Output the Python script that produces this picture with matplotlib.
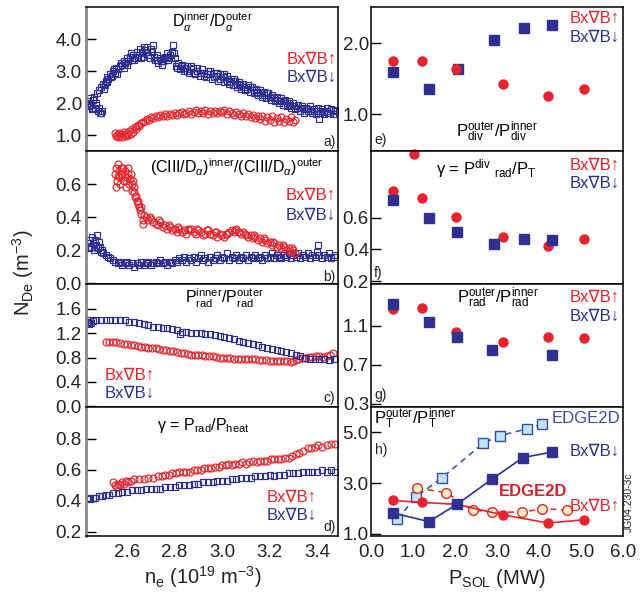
import matplotlib
matplotlib.use('Agg')
import matplotlib.pyplot as plt
from matplotlib.ticker import FormatStrFormatter

plt.rcParams['font.family'] = ['Liberation Sans', 'DejaVu Sans']
plt.rcParams['mathtext.fontset'] = 'custom'
plt.rcParams['mathtext.rm'] = 'Liberation Sans'
plt.rcParams['mathtext.it'] = 'Liberation Sans:italic'
plt.rcParams['mathtext.bf'] = 'Liberation Sans:bold'

RED = '#E8232B'
BLUE = '#2E3192'
LBLUE = '#BFE4F7'
LYELLOW = '#FFF5C4'

# ---------------- data: left column (n_e scans) ----------------
a_blue_x = [2.437, 2.440, 2.445, 2.450, 2.455, 2.458, 2.462, 2.466, 2.470, 2.472, 2.478, 2.483, 2.486, 2.490, 2.495,
            2.500, 2.507, 2.510, 2.514, 2.520, 2.528, 2.535, 2.540, 2.549, 2.555, 2.562, 2.570, 2.578, 2.585, 2.592,
            2.598, 2.605, 2.612, 2.619, 2.626, 2.633, 2.640, 2.648, 2.655, 2.662, 2.668, 2.675, 2.682, 2.689, 2.696,
            2.703, 2.710, 2.718, 2.725, 2.732, 2.739, 2.746, 2.753, 2.760, 2.767, 2.774, 2.781, 2.788, 2.795, 2.800,
            2.808, 2.815, 2.823, 2.830, 2.838, 2.845, 2.851, 2.860, 2.868, 2.879, 2.887, 2.895, 2.905, 2.914, 2.922,
            2.932, 2.940, 2.949, 2.958, 2.966, 2.975, 2.984, 2.993, 3.002, 3.010, 3.019, 3.028, 3.036, 3.045, 3.054,
            3.062, 3.071, 3.080, 3.089, 3.098, 3.107, 3.116, 3.125, 3.134, 3.142, 3.151, 3.160, 3.168, 3.177, 3.186,
            3.195, 3.204, 3.212, 3.221, 3.230, 3.239, 3.248, 3.256, 3.265, 3.274, 3.283, 3.292, 3.300, 3.309, 3.318,
            3.326, 3.335, 3.344, 3.352, 3.361, 3.370, 3.379, 3.388, 3.396, 3.405, 3.410, 3.414, 3.422, 3.431, 3.440,
            3.448, 3.457, 3.466, 3.475,
            2.445, 2.452, 2.468, 2.480, 2.492, 2.503, 2.517, 2.531, 2.545, 2.559, 2.573, 2.587, 2.601, 2.615, 2.629,
            2.643, 2.657, 2.671, 2.685, 2.699, 2.713, 2.727, 2.741, 2.755, 2.769, 2.783, 2.797, 2.811, 2.825, 2.839,
            2.853, 2.867, 2.881, 2.895, 2.909, 2.923, 2.937, 2.951, 2.965, 2.979, 2.993, 3.007, 3.021, 3.035, 3.049,
            3.063, 3.077, 3.091, 3.105, 3.119, 3.133, 3.147, 3.161, 3.175, 3.189, 3.203, 3.217, 3.231, 3.245, 3.259,
            3.273, 3.287, 3.301, 3.315, 3.329, 3.343, 3.357, 3.371, 3.385, 3.399, 3.413, 3.427, 3.441, 3.455, 3.469]
a_blue_y = [2.05, 1.90, 2.15, 1.95, 2.10, 1.85, 2.20, 1.80, 2.00, 2.30, 1.75, 2.40, 1.70, 2.50, 1.75,
            2.60, 2.55, 2.70, 2.80, 2.75, 2.90, 2.85, 3.00, 2.95, 3.10, 3.05, 3.15, 3.20, 3.30, 3.25,
            3.40, 3.30, 3.45, 3.35, 3.50, 3.40, 3.60, 3.45, 3.70, 3.55, 3.45, 3.65, 3.75, 3.50, 3.40,
            3.60, 3.80, 3.35, 3.50, 3.25, 3.40, 3.20, 3.30, 3.45, 3.55, 3.35, 3.50, 3.60, 3.80, 3.40,
            3.15, 3.25, 3.05, 3.20, 3.00, 3.10, 3.15, 2.95, 3.05, 3.10, 2.90, 3.00, 2.85, 3.05, 2.95,
            2.80, 3.00, 2.90, 2.75, 2.95, 2.85, 2.70, 2.90, 2.80, 2.65, 2.85, 2.60, 2.75, 2.55, 2.70,
            2.50, 2.65, 2.45, 2.60, 2.40, 2.55, 2.35, 2.50, 2.30, 2.45, 2.25, 2.40, 2.20, 2.35, 2.15,
            2.30, 2.10, 2.25, 2.05, 2.20, 2.00, 2.15, 1.95, 2.10, 1.90, 2.05, 1.85, 2.00, 1.80, 1.95,
            1.75, 1.90, 1.70, 1.85, 1.75, 1.90, 1.70, 1.80, 1.65, 1.85, 1.50, 1.70, 1.80, 1.65, 1.85,
            1.70, 1.80, 1.65, 1.75,
            2.00, 1.80, 1.95, 1.85, 1.70, 2.45, 2.65, 2.80, 3.05, 2.90, 3.25, 3.10, 3.20, 3.55, 3.35,
            3.50, 3.40, 3.75, 3.60, 3.70, 3.45, 3.35, 3.30, 3.40, 3.45, 3.40, 3.55, 3.10, 3.15, 3.10,
            3.00, 3.15, 2.95, 3.10, 2.95, 2.85, 2.90, 3.00, 2.80, 2.95, 2.75, 2.90, 2.70, 2.65, 2.75,
            2.60, 2.55, 2.50, 2.45, 2.50, 2.40, 2.35, 2.30, 2.25, 2.30, 2.20, 2.15, 2.10, 2.05, 2.05,
            2.00, 1.95, 1.90, 1.85, 1.85, 1.80, 1.80, 1.75, 1.75, 1.75, 1.75, 1.72, 1.75, 1.70, 1.78]

a_red_x = [2.549, 2.553, 2.558, 2.562, 2.566, 2.570, 2.575, 2.580, 2.585, 2.590, 2.595, 2.600, 2.605, 2.610, 2.615,
           2.620, 2.626, 2.632, 2.638, 2.645, 2.652, 2.660, 2.668, 2.676, 2.684, 2.692, 2.700, 2.710, 2.720, 2.730,
           2.740, 2.750, 2.760, 2.770, 2.780, 2.790, 2.800, 2.810, 2.820, 2.830, 2.840, 2.850, 2.860, 2.870, 2.880,
           2.890, 2.900, 2.910, 2.920, 2.930, 2.940, 2.950, 2.960, 2.970, 2.980, 2.990, 3.000, 3.010, 3.020, 3.030,
           3.040, 3.050, 3.060, 3.070, 3.080, 3.090, 3.100, 3.110, 3.120, 3.130, 3.140, 3.150, 3.160, 3.170, 3.180,
           3.190, 3.200, 3.210, 3.220, 3.230, 3.240, 3.250, 3.260, 3.270, 3.280, 3.290, 3.300, 3.307]
a_red_y = [1.05, 0.98, 1.00, 0.95, 1.05, 0.97, 1.02, 0.95, 1.08, 1.00, 0.97, 1.05, 1.00, 1.12, 1.02,
           1.18, 1.10, 1.25, 1.20, 1.32, 1.28, 1.38, 1.42, 1.45, 1.50, 1.48, 1.55, 1.52, 1.58, 1.55,
           1.62, 1.58, 1.65, 1.60, 1.66, 1.62, 1.70, 1.64, 1.68, 1.72, 1.65, 1.70, 1.75, 1.66, 1.72,
           1.78, 1.68, 1.74, 1.70, 1.78, 1.66, 1.74, 1.70, 1.76, 1.68, 1.75, 1.72, 1.78, 1.66, 1.74,
           1.70, 1.62, 1.72, 1.65, 1.60, 1.68, 1.58, 1.65, 1.55, 1.62, 1.52, 1.60, 1.50, 1.58, 1.45,
           1.55, 1.48, 1.58, 1.42, 1.52, 1.45, 1.55, 1.40, 1.50, 1.45, 1.55, 1.42, 1.48]

b_red_x = [2.549, 2.552, 2.556, 2.560, 2.564, 2.568, 2.572, 2.576, 2.580, 2.585, 2.590, 2.595, 2.600, 2.605, 2.610,
           2.615, 2.620, 2.625, 2.630, 2.635, 2.640, 2.645, 2.650, 2.655, 2.660, 2.665, 2.668, 2.672, 2.680, 2.690,
           2.700, 2.710, 2.720, 2.730, 2.740, 2.750, 2.760, 2.770, 2.780, 2.790, 2.800, 2.810, 2.820, 2.830, 2.840,
           2.850, 2.860, 2.870, 2.880, 2.890, 2.900, 2.910, 2.920, 2.930, 2.940, 2.950, 2.960, 2.970, 2.980, 2.990,
           3.000, 3.010, 3.020, 3.030, 3.040, 3.050, 3.060, 3.070, 3.080, 3.090, 3.100, 3.110, 3.120, 3.130, 3.140,
           3.150, 3.160, 3.170, 3.180, 3.190, 3.200, 3.210, 3.220, 3.230, 3.240, 3.250, 3.260, 3.270, 3.280, 3.290,
           3.300, 3.307,
           2.555, 2.562, 2.575, 2.583, 2.592, 2.603, 2.612, 2.622, 2.628, 2.638, 2.648, 2.658, 2.695, 2.735, 2.775,
           2.815, 2.855, 2.895, 2.935, 2.975, 3.015, 3.055, 3.095, 3.135, 3.175, 3.215, 3.255, 3.295]
b_red_y = [0.66, 0.70, 0.62, 0.72, 0.68, 0.64, 0.60, 0.70, 0.66, 0.62, 0.68, 0.58, 0.64, 0.70, 0.60,
           0.66, 0.56, 0.62, 0.55, 0.52, 0.50, 0.48, 0.46, 0.44, 0.42, 0.36, 0.38, 0.41, 0.40, 0.38,
           0.39, 0.37, 0.36, 0.35, 0.37, 0.34, 0.35, 0.33, 0.34, 0.32, 0.33, 0.31, 0.33, 0.31, 0.32,
           0.30, 0.32, 0.33, 0.31, 0.30, 0.32, 0.31, 0.29, 0.30, 0.32, 0.30, 0.29, 0.31, 0.28, 0.30,
           0.29, 0.28, 0.30, 0.31, 0.32, 0.31, 0.33, 0.31, 0.30, 0.31, 0.29, 0.28, 0.29, 0.27, 0.28,
           0.26, 0.27, 0.25, 0.26, 0.24, 0.25, 0.23, 0.24, 0.22, 0.23, 0.21, 0.22, 0.20, 0.21, 0.19,
           0.20, 0.18,
           0.58, 0.65, 0.66, 0.70, 0.64, 0.66, 0.63, 0.60, 0.58, 0.53, 0.50, 0.46, 0.40, 0.38, 0.35,
           0.34, 0.33, 0.33, 0.32, 0.31, 0.30, 0.32, 0.30, 0.29, 0.27, 0.25, 0.23, 0.21]

b_blue_x = [2.437, 2.440, 2.444, 2.448, 2.452, 2.456, 2.460, 2.464, 2.468, 2.472, 2.476, 2.480, 2.485, 2.490, 2.495,
            2.500, 2.510, 2.520, 2.530, 2.540, 2.550, 2.560, 2.570, 2.580, 2.590, 2.600, 2.610, 2.620, 2.630, 2.640,
            2.650, 2.660, 2.670, 2.680, 2.690, 2.700, 2.710, 2.720, 2.730, 2.740, 2.750, 2.760, 2.770, 2.780, 2.790,
            2.800, 2.810, 2.820, 2.830, 2.840, 2.850, 2.860, 2.870, 2.880, 2.890, 2.900, 2.910, 2.920, 2.930, 2.940,
            2.950, 2.960, 2.970, 2.980, 2.990, 3.000, 3.010, 3.020, 3.030, 3.040, 3.050, 3.060, 3.070, 3.080, 3.090,
            3.100, 3.110, 3.120, 3.130, 3.140, 3.150, 3.160, 3.170, 3.180, 3.190, 3.200, 3.210, 3.220, 3.230, 3.240,
            3.250, 3.260, 3.270, 3.280, 3.290, 3.300, 3.310, 3.320, 3.330, 3.340, 3.350, 3.360, 3.370, 3.380, 3.390,
            3.400, 3.405, 3.410, 3.420, 3.430, 3.440, 3.450, 3.460, 3.470, 3.475]
b_blue_y = [0.24, 0.21, 0.26, 0.22, 0.28, 0.24, 0.20, 0.26, 0.23, 0.29, 0.21, 0.25, 0.22, 0.19, 0.20,
            0.18, 0.17, 0.16, 0.15, 0.14, 0.13, 0.12, 0.13, 0.11, 0.12, 0.13, 0.11, 0.12, 0.10, 0.12,
            0.11, 0.13, 0.11, 0.12, 0.13, 0.11, 0.12, 0.13, 0.12, 0.14, 0.12, 0.13, 0.11, 0.13, 0.12,
            0.14, 0.13, 0.15, 0.14, 0.16, 0.13, 0.15, 0.14, 0.16, 0.13, 0.15, 0.17, 0.14, 0.15, 0.13,
            0.16, 0.14, 0.15, 0.17, 0.14, 0.16, 0.15, 0.18, 0.14, 0.16, 0.15, 0.17, 0.14, 0.16, 0.15,
            0.17, 0.14, 0.16, 0.15, 0.17, 0.15, 0.16, 0.14, 0.17, 0.15, 0.16, 0.18, 0.15, 0.17, 0.16,
            0.15, 0.17, 0.16, 0.18, 0.15, 0.17, 0.16, 0.18, 0.15, 0.17, 0.16, 0.18, 0.15, 0.17, 0.16,
            0.19, 0.23, 0.17, 0.15, 0.17, 0.16, 0.18, 0.15, 0.16, 0.17]

c_blue_x = [2.435, 2.440, 2.445, 2.450, 2.455, 2.470, 2.490, 2.510, 2.530, 2.550, 2.570, 2.590, 2.610, 2.630, 2.650,
            2.670, 2.690, 2.710, 2.730, 2.750, 2.770, 2.790, 2.810, 2.823, 2.830, 2.850, 2.870, 2.890, 2.910, 2.930,
            2.950, 2.970, 2.990, 3.010, 3.030, 3.050, 3.070, 3.090, 3.110, 3.130, 3.150, 3.170, 3.190, 3.210, 3.230,
            3.250, 3.270, 3.290, 3.310, 3.330, 3.350, 3.370, 3.390, 3.410, 3.430, 3.450, 3.470, 3.480]
c_blue_y = [1.38, 1.35, 1.42, 1.37, 1.40, 1.41, 1.42, 1.42, 1.42, 1.42, 1.41, 1.41, 1.39, 1.38, 1.37,
            1.35, 1.33, 1.31, 1.30, 1.29, 1.28, 1.27, 1.26, 1.18, 1.22, 1.22, 1.21, 1.20, 1.20, 1.19,
            1.18, 1.17, 1.16, 1.14, 1.12, 1.10, 1.08, 1.06, 1.04, 1.02, 1.00, 0.98, 0.96, 0.94, 0.92,
            0.90, 0.89, 0.87, 0.85, 0.83, 0.80, 0.78, 0.77, 0.78, 0.77, 0.76, 0.77, 0.78]

c_red_x = [2.510, 2.525, 2.540, 2.555, 2.570, 2.585, 2.600, 2.615, 2.630, 2.645, 2.660, 2.675, 2.690, 2.705, 2.720,
           2.735, 2.750, 2.765, 2.780, 2.795, 2.810, 2.825, 2.840, 2.855, 2.870, 2.885, 2.900, 2.915, 2.930, 2.945,
           2.960, 2.975, 2.990, 3.005, 3.020, 3.035, 3.050, 3.065, 3.080, 3.095, 3.110, 3.125, 3.140, 3.155, 3.170,
           3.185, 3.200, 3.215, 3.230, 3.245, 3.260, 3.275, 3.290, 3.300, 3.310, 3.320, 3.335, 3.350, 3.365, 3.380,
           3.395, 3.410, 3.425, 3.440, 3.455, 3.465]
c_red_y = [1.06, 1.06, 1.05, 1.05, 1.04, 1.03, 1.02, 1.01, 1.00, 0.99, 0.98, 0.97, 0.96, 0.96, 0.95,
           0.94, 0.93, 0.92, 0.91, 0.90, 0.89, 0.88, 0.87, 0.86, 0.85, 0.85, 0.84, 0.84, 0.83, 0.83,
           0.82, 0.81, 0.80, 0.80, 0.79, 0.79, 0.78, 0.78, 0.78, 0.77, 0.77, 0.77, 0.77, 0.76, 0.76,
           0.76, 0.75, 0.75, 0.75, 0.74, 0.74, 0.74, 0.73, 0.74, 0.76, 0.78, 0.79, 0.80, 0.81, 0.81,
           0.82, 0.82, 0.81, 0.82, 0.84, 0.87]

d_red_x = [2.540, 2.548, 2.556, 2.562, 2.570, 2.578, 2.586, 2.594, 2.605, 2.618, 2.630, 2.650, 2.670, 2.690, 2.710,
           2.730, 2.745, 2.760, 2.775, 2.790, 2.805, 2.820, 2.835, 2.850, 2.865, 2.880, 2.895, 2.910, 2.925, 2.940,
           2.955, 2.970, 2.985, 3.000, 3.015, 3.025, 3.040, 3.055, 3.070, 3.085, 3.100, 3.115, 3.130, 3.145, 3.160,
           3.175, 3.190, 3.205, 3.220, 3.235, 3.250, 3.265, 3.280, 3.295, 3.310, 3.325, 3.340, 3.360, 3.375, 3.390,
           3.405, 3.420, 3.440, 3.460, 3.475]
d_red_y = [0.52, 0.50, 0.49, 0.51, 0.50, 0.52, 0.51, 0.53, 0.52, 0.53, 0.54, 0.54, 0.54, 0.55, 0.55,
           0.56, 0.56, 0.57, 0.57, 0.58, 0.58, 0.59, 0.59, 0.59, 0.59, 0.60, 0.60, 0.60, 0.61, 0.61,
           0.61, 0.62, 0.62, 0.63, 0.63, 0.64, 0.63, 0.64, 0.64, 0.65, 0.64, 0.65, 0.66, 0.65, 0.66,
           0.66, 0.66, 0.67, 0.67, 0.67, 0.67, 0.68, 0.68, 0.69, 0.70, 0.71, 0.72, 0.74, 0.74, 0.75,
           0.76, 0.75, 0.76, 0.77, 0.77]

d_blue_x = [2.435, 2.445, 2.455, 2.465, 2.480, 2.495, 2.510, 2.525, 2.540, 2.560, 2.580, 2.600, 2.620, 2.640, 2.660,
            2.680, 2.700, 2.720, 2.740, 2.760, 2.780, 2.800, 2.820, 2.840, 2.860, 2.880, 2.900, 2.920, 2.940, 2.960,
            2.980, 3.000, 3.020, 3.040, 3.060, 3.080, 3.100, 3.120, 3.140, 3.160, 3.180, 3.200, 3.220, 3.240, 3.260,
            3.280, 3.300, 3.320, 3.340, 3.360, 3.380, 3.400, 3.420, 3.440, 3.460, 3.475]
d_blue_y = [0.42, 0.41, 0.42, 0.42, 0.43, 0.43, 0.44, 0.44, 0.45, 0.45, 0.46, 0.46, 0.47, 0.47, 0.47,
            0.48, 0.48, 0.48, 0.48, 0.49, 0.49, 0.49, 0.50, 0.50, 0.50, 0.51, 0.51, 0.52, 0.52, 0.52,
            0.53, 0.53, 0.53, 0.54, 0.54, 0.55, 0.55, 0.55, 0.56, 0.56, 0.56, 0.57, 0.56, 0.57, 0.57,
            0.58, 0.58, 0.58, 0.59, 0.59, 0.59, 0.59, 0.60, 0.59, 0.60, 0.59]

# ---------------- data: right column (P_SOL scans) ----------------
e_red_x = [0.53, 1.21, 2.02, 3.15, 4.22, 5.07]
e_red_y = [1.75, 1.75, 1.64, 1.42, 1.26, 1.35]
e_blue_x = [0.53, 1.38, 2.07, 2.93, 3.64, 4.30]
e_blue_y = [1.60, 1.36, 1.64, 2.04, 2.21, 2.25]

f_red_x = [0.53, 1.03, 1.21, 2.02, 3.15, 4.22, 5.07]
f_red_y = [0.771, 1.004, 0.725, 0.608, 0.481, 0.424, 0.465]
f_blue_x = [0.53, 1.38, 2.05, 2.92, 3.64, 4.30]
f_blue_y = [0.714, 0.602, 0.513, 0.437, 0.465, 0.460]

g_red_x = [0.52, 1.21, 2.02, 3.15, 4.22, 5.07]
g_red_y = [1.274, 1.280, 1.035, 0.933, 0.990, 0.980]
g_blue_x = [0.53, 1.38, 2.05, 2.89, 4.30]
g_blue_y = [1.326, 1.144, 0.990, 0.854, 0.800]

h_red_x = [0.52, 1.21, 2.02, 3.15, 4.22, 5.07]
h_red_y = [2.32, 2.24, 2.17, 1.75, 1.43, 1.56]
h_blue_x = [0.53, 1.38, 2.05, 2.89, 3.62, 4.30]
h_blue_y = [1.82, 1.49, 2.17, 3.17, 4.01, 4.22]
h_edge_blue_x = [0.63, 1.06, 1.68, 2.67, 3.07, 3.71, 4.06]
h_edge_blue_y = [1.58, 2.45, 3.20, 4.57, 4.87, 5.14, 5.32]
h_edge_red_x = [1.10, 1.79, 2.42, 2.88, 3.60, 4.08, 4.66]
h_edge_red_y = [2.80, 2.63, 1.95, 1.86, 1.86, 1.99, 1.95]

# ---------------- figure ----------------
W, H = 641, 596
fig = plt.figure(figsize=(W / 100, H / 100), dpi=100)

rows = [(7, 151), (151, 284), (284, 407), (407, 536)]
LX = (86, 338)
RX = (371, 623)


def ax_at(xs, ys):
    return fig.add_axes([xs[0] / W, 1 - ys[1] / H, (xs[1] - xs[0]) / W, (ys[1] - ys[0]) / H])


TICKFS = 13.5
LEGFS = 12
TITFS = 11.5


def style(ax, xlim, ylim, yticks, left_col, show_x, xticks):
    ax.set_xlim(*xlim)
    ax.set_ylim(*ylim)
    ax.set_yticks(yticks)
    ax.yaxis.set_major_formatter(FormatStrFormatter('%.1f'))
    ax.set_xticks(xticks)
    ax.xaxis.set_major_formatter(FormatStrFormatter('%.1f'))
    ax.tick_params(axis='y', direction='in', length=7.5, width=1.0, labelsize=TICKFS,
                   pad=3 if left_col else 1.5, colors='black')
    ax.tick_params(axis='y', labelcolor='#222222')
    ax.tick_params(axis='x', length=0, labelsize=TICKFS, pad=6, labelbottom=show_x, labelcolor='#222222')
    for s in ax.spines.values():
        s.set_linewidth(1.1)
        s.set_color('black')
    if left_col:
        ax.spines['left'].set_color('#8a8a8a')
        ax.spines['left'].set_linewidth(2.0)


def legend_text(ax, x, y, ha, size=LEGFS):
    ax.text(x, y[0], 'Bx\u2207B\u2191', color=RED, ha=ha, va='center', fontsize=size,
            transform=ax.transAxes)
    ax.text(x, y[1], 'Bx\u2207B\u2193', color=BLUE, ha=ha, va='center', fontsize=size,
            transform=ax.transAxes)


def tag(ax, x, y, s, ha):
    ax.text(x, y, s, ha=ha, va='center', fontsize=10, color='#222222', transform=ax.transAxes)


lxlim = (2.427, 3.488)
lxt = [2.6, 2.8, 3.0, 3.2, 3.4]
rxlim = (0.0, 6.0)
rxt = [0, 1, 2, 3, 4, 5, 6]

openm = dict(linestyle='none', mfc='none', ms=5.0, mew=0.85)

# a)
ax = ax_at(LX, rows[0])
ax.plot(a_blue_x, a_blue_y, marker='s', mec=BLUE, **openm)
ax.plot(a_red_x, a_red_y, marker='o', mec=RED, **openm)
style(ax, lxlim, (0.5, 5.0), [1, 2, 3, 4], True, False, lxt)
ax.text(0.5, 0.896, r'D$_{\alpha}^{\mathrm{inner}}$/D$_{\alpha}^{\mathrm{outer}}$', ha='center', va='center',
        fontsize=TITFS, transform=ax.transAxes)
legend_text(ax, 0.995, (0.637, 0.512), 'right')
tag(ax, 0.99, 0.065, 'a)', 'right')

# b)
ax = ax_at(LX, rows[1])
ax.plot(b_blue_x, b_blue_y, marker='s', mec=BLUE, **openm)
ax.plot(b_red_x, b_red_y, marker='o', mec=RED, **openm)
style(ax, lxlim, (-0.006, 0.80), [0.0, 0.2, 0.4, 0.6], True, False, lxt)
ax.text(0.598, 0.882, r'(CIII/D$_{\alpha}$)$^{\mathrm{inner}}$/(CIII/D$_{\alpha}$)$^{\mathrm{outer}}$',
        ha='center', va='center', fontsize=TITFS, transform=ax.transAxes)
legend_text(ax, 0.99, (0.669, 0.519), 'right')
tag(ax, 0.99, 0.055, 'b)', 'right')

# c)
ax = ax_at(LX, rows[2])
ax.plot(c_red_x, c_red_y, marker='o', mec=RED, **openm)
ax.plot(c_blue_x, c_blue_y, marker='s', mec=BLUE, **openm)
style(ax, lxlim, (-0.013, 2.01), [0.0, 0.4, 0.8, 1.2, 1.6], True, False, lxt)
ax.text(0.548, 0.884, r'P$_{\mathrm{rad}}^{\mathrm{inner}}$/P$_{\mathrm{rad}}^{\mathrm{outer}}$',
        ha='center', va='center', fontsize=TITFS, transform=ax.transAxes)
legend_text(ax, 0.075, (0.26, 0.111), 'left')
tag(ax, 0.99, 0.07, 'c)', 'right')

# d)
ax = ax_at(LX, rows[3])
ax.plot(d_red_x, d_red_y, marker='o', mec=RED, **openm)
ax.plot(d_blue_x, d_blue_y, marker='s', mec=BLUE, **openm)
style(ax, lxlim, (0.174, 1.006), [0.2, 0.4, 0.6, 0.8], True, True, lxt)
ax.text(0.465, 0.86, '\u03b3 = P$_{\\mathrm{rad}}$/P$_{\\mathrm{heat}}$',
        ha='center', va='center', fontsize=TITFS, transform=ax.transAxes)
legend_text(ax, 0.915, (0.30, 0.163), 'right')
tag(ax, 0.99, 0.072, 'd)', 'right')
ax.set_xlabel(r'n$_{\mathrm{e}}$ (10$^{19}$ m$^{-3}$)', fontsize=14.5, labelpad=4, color='#222222')
ax.xaxis.set_label_coords(0.465, -0.215)

filled_c = dict(linestyle='none', marker='o', color=RED, ms=6.5, mec=RED)
filled_s = dict(linestyle='none', marker='s', color=BLUE, ms=7.0, mec=BLUE)

# e)
ax = ax_at(RX, rows[0])
ax.plot(e_blue_x, e_blue_y, **filled_s)
ax.plot(e_red_x, e_red_y, **filled_c)
style(ax, rxlim, (0.483, 2.51), [1.0, 2.0], False, False, rxt)
ax.text(0.499, 0.134, r'P$_{\mathrm{div}}^{\mathrm{outer}}$/P$_{\mathrm{div}}^{\mathrm{inner}}$',
        ha='center', va='center', fontsize=TITFS + 0.5, transform=ax.transAxes)
legend_text(ax, 0.988, (0.917, 0.79), 'right')
tag(ax, 0.012, 0.076, 'e)', 'left')

# f)
ax = ax_at(RX, rows[1])
ax.plot(f_red_x, f_red_y, clip_on=False, **filled_c)
ax.plot(f_blue_x, f_blue_y, **filled_s)
style(ax, rxlim, (0.181, 1.025), [0.2, 0.4, 0.6], False, False, rxt)
ax.text(0.456, 0.87, '\u03b3 = P$^{\\mathrm{div}}$ $_{\\mathrm{rad}}$/P$_{\\mathrm{T}}$',
        ha='center', va='center', fontsize=TITFS + 0.5, transform=ax.transAxes)
legend_text(ax, 0.988, (0.895, 0.757), 'right')
tag(ax, 0.012, 0.08, 'f)', 'left')

# g)
ax = ax_at(RX, rows[2])
ax.plot(g_red_x, g_red_y, **filled_c)
ax.plot(g_blue_x, g_blue_y, **filled_s)
style(ax, rxlim, (0.269, 1.53), [0.3, 0.7, 1.1], False, False, rxt)
ax.text(0.504, 0.884, r'P$_{\mathrm{rad}}^{\mathrm{outer}}$/P$_{\mathrm{rad}}^{\mathrm{inner}}$',
        ha='center', va='center', fontsize=TITFS + 0.5, transform=ax.transAxes)
legend_text(ax, 0.988, (0.889, 0.74), 'right')
tag(ax, 0.012, 0.098, 'g)', 'left')

# h)
ax = ax_at(RX, rows[3])
ax.plot(h_edge_blue_x, h_edge_blue_y, linestyle=(0, (4, 3)), color='#3A4AA6', lw=1.1,
        marker='s', ms=7.0, mfc=LBLUE, mec='#3A4AA6', mew=1.0)
ax.plot(h_edge_red_x, h_edge_red_y, linestyle=(0, (4, 3)), color=RED, lw=1.1,
        marker='o', ms=7.0, mfc=LYELLOW, mec=RED, mew=1.0)
ax.plot(h_red_x, h_red_y, linestyle='-', color=RED, lw=1.2, marker='o', ms=6.5, mec=RED)
ax.plot(h_blue_x, h_blue_y, linestyle='-', color=BLUE, lw=1.2, marker='s', ms=7.0, mec=BLUE)
style(ax, rxlim, (0.92, 6.0), [1.0, 3.0, 5.0], False, True, rxt)
ax.text(0.01, 0.912, r'P$_{\mathrm{T}}^{\mathrm{outer}}$/P$_{\mathrm{T}}^{\mathrm{inner}}$',
        ha='left', va='center', fontsize=TITFS + 0.5, transform=ax.transAxes)
tag(ax, 0.016, 0.667, 'h)', 'left')
ax.text(0.988, 0.912, 'EDGE2D', color='#3A4AA6', ha='right', va='center', fontsize=LEGFS,
        transform=ax.transAxes)
ax.text(0.988, 0.653, 'Bx\u2207B\u2193', color=BLUE, ha='right', va='center', fontsize=LEGFS,
        transform=ax.transAxes)
ax.text(0.644, 0.344, 'EDGE2D', color='#D42030', ha='center', va='center', fontsize=LEGFS,
        fontweight='bold', transform=ax.transAxes)
ax.text(0.988, 0.227, 'Bx\u2207B\u2191', color=RED, ha='right', va='center', fontsize=LEGFS,
        transform=ax.transAxes)
ax.set_xlabel(r'P$_{\mathrm{SOL}}$ (MW)', fontsize=14.5, labelpad=4, color='#222222')

fig.text(23 / W, 1 - 273 / H, r'N$_{\mathrm{De}}$ (m$^{-3}$)', rotation=90, ha='center', va='center',
         fontsize=14.5, color='#222222')
fig.text(629 / W, 1 - 502 / H, 'JG04.230-3c', rotation=90, ha='center', va='center', fontsize=7.5,
         color='#222222')

fig.savefig('out.png', dpi=100)
